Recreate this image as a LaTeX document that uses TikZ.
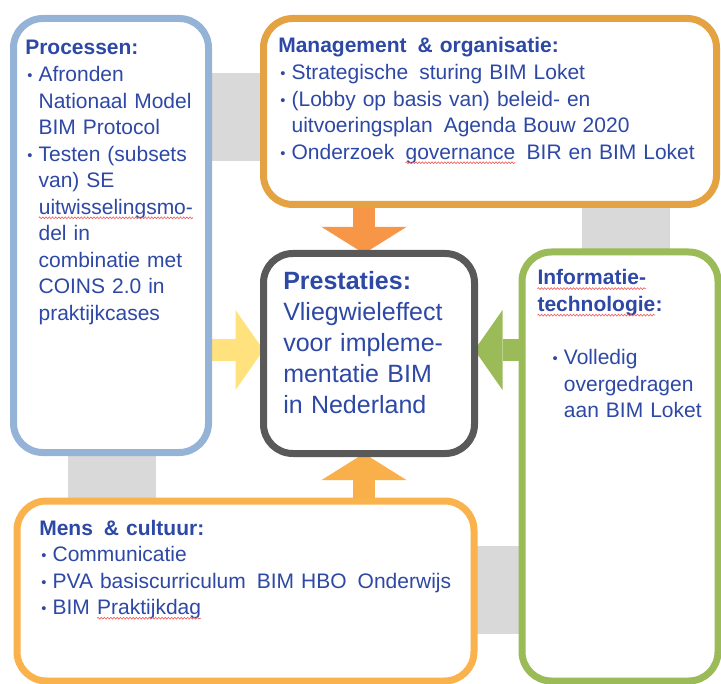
\documentclass[tikz,border=0pt]{standalone}
\usepackage{fontspec}
\setmainfont{Liberation Sans}
\usetikzlibrary{arrows.meta, fit, backgrounds, decorations.pathmorphing}

\definecolor{procblue}{RGB}{149,179,215}
\definecolor{mgmtorange}{RGB}{228,162,66}
\definecolor{prestgray}{RGB}{89,89,89}
\definecolor{infogreen}{RGB}{155,187,89}
\definecolor{mensorange}{RGB}{249,178,76}
\definecolor{toparrow}{RGB}{247,150,70}
\definecolor{leftarrow}{RGB}{255,225,125}
\definecolor{rightarrow}{RGB}{155,187,89}
\definecolor{botarrow}{RGB}{249,176,74}
\definecolor{ringgray}{RGB}{217,217,217}
\definecolor{txtblue}{RGB}{45,72,165}
\definecolor{wavered}{RGB}{240,90,90}

\tikzstyle{box}=[rectangle, draw, fill=white, line width=5.25pt, rounded corners=22pt, inner sep=0pt, outer sep=0pt]
\tikzstyle{txt}=[anchor=base west, inner sep=0pt, text width=320pt, align=left, text=txtblue, font=\fontsize{15.75}{19.9}\selectfont]
\tikzstyle{bigtxt}=[txt, font=\fontsize{18.75}{23.25}\selectfont]
\tikzstyle{ring}=[draw=ringgray, line width=66pt]
\tikzstyle{vblock}=[line width=16.5pt, -{Triangle[length=20pt, width=64pt, line width=0pt]}]
\tikzstyle{hblock}=[line width=16.5pt, -{Triangle[length=21pt, width=60pt, line width=0pt]}]
\tikzstyle{wave}=[draw=wavered, line width=0.45pt, decorate, decoration={zigzag, amplitude=0.7pt, segment length=2.4pt}]

% red spell-check underline
\newcommand{\spell}[1]{\tikz[baseline=(sw.base)]{\node (sw) [inner sep=0pt, outer sep=0pt, text width={}, align=none, anchor=base west] {#1}; \draw [wave] ([yshift=-2.7pt]sw.base west) -- ([yshift=-2.7pt]sw.base east);}}
\newcommand{\itm}{\hspace*{1.5pt}\makebox[8.5pt][l]{\raisebox{0.6pt}{\fontsize{11}{11}\selectfont\textbullet}}}
\newcommand{\cnt}{\hspace*{10pt}}
\newcommand{\wsp}{\hspace{3pt}}

\begin{document}
\begin{tikzpicture}[x=0.75pt, y=-0.75pt]
	\useasboundingbox (0, 0) rectangle (721, 684);
	\begin{scope}[on background layer]
		\draw [ring] (112, 117) rectangle (626, 590);
	\end{scope}
	\begin{scope}
		\node (proc) [box, draw=procblue, fit={(13.5, 18.5) (208.5, 452.5)}] {};
		\node (mgmt) [box, draw=mgmtorange, fit={(263.5, 18.5) (716.5, 204.5)}] {};
		\node (prest) [box, draw=prestgray, fit={(263.5, 253.5) (474.5, 453.5)}] {};
		\node (info) [box, draw=infogreen, fit={(522, 252) (718, 681)}] {};
		\node (mens) [box, draw=mensorange, fit={(17, 501) (474, 681)}] {};
		\coordinate (vaxis) at (364, 0);
		\coordinate (haxis) at (0, 350);
	\end{scope}
	\begin{scope}
		\node (proctext) at (25, 55) [txt] {
			\textbf{Processen:}\\
			\itm Afronden\\
			\cnt Nationaal Model\\
			\cnt BIM Protocol\\
			\itm Testen (subsets\\
			\cnt van) SE\\
			\cnt \spell{uitwisselingsmo-}\\
			\cnt del in\\
			\cnt combinatie met\\
			\cnt COINS 2.0 in\\
			\cnt praktijkcases
		};
		\node (mgmttext) at (278, 53) [txt] {
			\textbf{Management\wsp{} \& organisatie:}\\
			\itm Strategische\wsp{} sturing BIM Loket\\
			\itm (Lobby op basis van) beleid- en\\
			\cnt uitvoeringsplan\wsp{} Agenda Bouw 2020\\
			\itm Onderzoek\wsp{} \spell{governance}\wsp{} BIR en BIM Loket
		};
		\node (presttext) at (283, 290) [bigtxt] {
			\textbf{Prestaties:}\\
			Vliegwieleffect\\
			voor impleme-\\
			mentatie BIM\\
			in Nederland
		};
		\node (infotext) at (537, 285) [txt] {
			\spell{\textbf{Informatie-}}\\
			\spell{\textbf{technologie}}\textbf{:}\\[19.9pt]
			\hspace*{10pt}\itm Volledig\\
			\hspace*{10pt}\cnt overgedragen\\
			\hspace*{10pt}\cnt aan BIM Loket
		};
		\node (menstext) at (39, 535) [txt] {
			\textbf{Mens\wsp{} \& cultuur:}\\
			\itm Communicatie\\
			\itm PVA basiscurriculum\wsp{} BIM HBO\wsp{} Onderwijs\\
			\itm BIM \spell{Praktijkdag}
		};
	\end{scope}
	\begin{scope}[on background layer]
		\draw [vblock, draw=toparrow] (mgmt.south -| vaxis) -- (prest.north -| vaxis);
		\draw [hblock, draw=leftarrow] (proc.east |- haxis) -- (prest.west |- haxis);
		\draw [hblock, draw=rightarrow] (info.west |- haxis) -- (prest.east |- haxis);
		\draw [vblock, draw=botarrow] (mens.north -| vaxis) -- (prest.south -| vaxis);
	\end{scope}
\end{tikzpicture}
\end{document}
